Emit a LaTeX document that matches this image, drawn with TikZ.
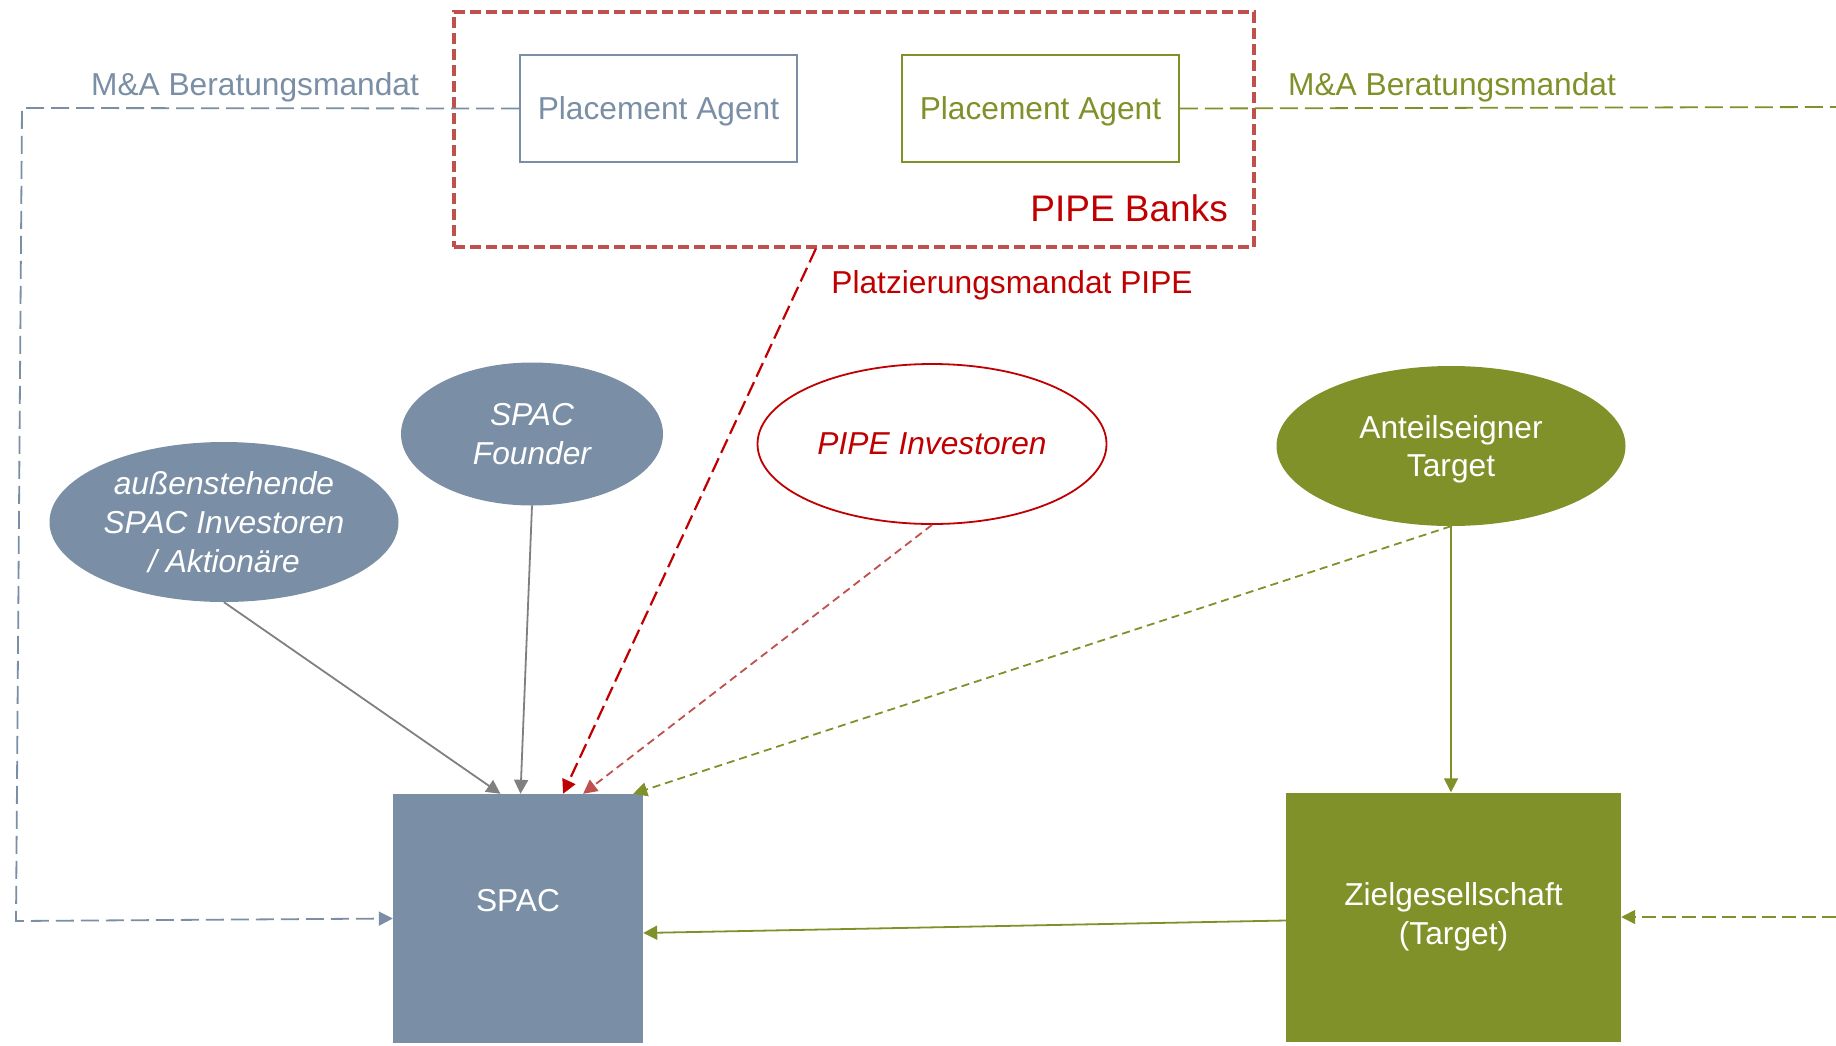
\documentclass[tikz,border=0pt]{standalone}
\usepackage{fontspec}
\setmainfont{Liberation Sans}
\usetikzlibrary{arrows.meta,shapes.geometric,calc}
\definecolor{slate}{RGB}{122,143,166}
\definecolor{moss}{RGB}{128,145,42}
\definecolor{pipered}{RGB}{192,0,0}
\definecolor{softred}{RGB}{192,80,77}
\begin{document}
\begin{tikzpicture}[x=1pt,y=-1pt,
                    arrow/.style = {line width=1.8pt,-{Triangle[length=14pt,width=14pt]}},
                    txt/.style = {font=\fontsize{31.7}{38.6}\selectfont,align=center,inner sep=0pt,text depth=0pt},
                    it/.style = {font=\fontsize{31.7}{38.6}\selectfont\itshape},
                    agent/.style = {txt,draw,line width=1.8pt,minimum width=277pt,minimum height=107pt},
                    party/.style = {txt,ellipse,minimum width=349pt,minimum height=160pt},
                    firm/.style = {txt,text=white,minimum height=249pt}]
                    \useasboundingbox (0,0) rectangle (1836,1045);

                    \node [draw=softred,line width=3.5pt,dash pattern=on 11pt off 5pt,
                           minimum width=800pt,minimum height=235pt] (banks) at (854,129.5) {};
                    \node [txt,anchor=east,text=pipered,font=\fontsize{37}{44}\selectfont] (bankslbl) at (1228,208) {PIPE Banks};

                    \node [agent,draw=slate,text=slate] (agentL) at (658.5,108.5) {Placement Agent};
                    \node [agent,draw=moss,text=moss] (agentR) at (1040.5,108.5) {Placement Agent};

                    \node [txt,text=slate] (mandatL) at (255,84) {M\&A Beratungsmandat};
                    \node [txt,text=moss] (mandatR) at (1452,84) {M\&A Beratungsmandat};
                    \node [txt,text=pipered] (mandatP) at (1012,282) {Platzierungsmandat PIPE};

                    \node [party,fill=slate,text=white,it] (outside) at (224,522) {außenstehende\\SPAC Investoren\\/ Aktionäre};
                    \node [party,fill=slate,text=white,it,minimum width=262pt,minimum height=143pt] (founder) at (532,434) {SPAC\\Founder};
                    \node [party,draw=pipered,line width=1.8pt,fill=white,text=pipered,it] (pipeinv) at (932,444) {PIPE Investoren};
                    \node [party,fill=moss,text=white] (holders) at (1451,446) {Anteilseigner\\Target};

                    \node [firm,fill=slate,minimum width=250pt] (spac) at (518,918.5) {};
                    \node [txt,text=white] (spaclbl) at (518,900) {SPAC};
                    \node [firm,fill=moss,minimum width=335pt,text depth={}] (target) at (1453.5,917) {Zielgesellschaft\\(Target)};

                    \coordinate (cornerTL) at (22,108);
                    \coordinate (cornerBL) at (16,921);
                    \coordinate (edgeT) at (1836,107);
                    \coordinate (edgeB) at (1836,917);

                    \draw [arrow,slate,dash pattern=on 18pt off 7pt] (agentL.west) -- (cornerTL) -- (cornerBL) -- (spac.west);
                    \draw [moss,line width=1.8pt,dash pattern=on 18pt off 7pt] (agentR.east) -- (edgeT);
                    \draw [arrow,moss,dash pattern=on 14pt off 6pt] (edgeB) -- (target.east);

                    \draw [arrow,gray] (outside.south) -- ($(spac.north west)!0.43!(spac.north east)$);
                    \draw [arrow,gray] (founder.south) -- ($(spac.north west)!0.51!(spac.north east)$);
                    \draw [arrow,pipered,line width=2.2pt,dash pattern=on 15pt off 6pt]
                          ($(banks.south west)!0.4525!(banks.south east)$) -- ($(spac.north west)!0.68!(spac.north east)$);
                    \draw [arrow,softred,dash pattern=on 8pt off 5pt] (pipeinv.south) -- ($(spac.north west)!0.76!(spac.north east)$);
                    \draw [arrow,moss,dash pattern=on 8pt off 5pt] (holders.south) -- ($(spac.north west)!0.96!(spac.north east)$);
                    \draw [arrow,moss] (holders.south) -- (holders.south |- target.north);
                    \draw [arrow,moss] ($(target.north west)!0.514!(target.south west)$) -- ($(spac.north east)!0.558!(spac.south east)$);
                \end{tikzpicture}
\end{document}
